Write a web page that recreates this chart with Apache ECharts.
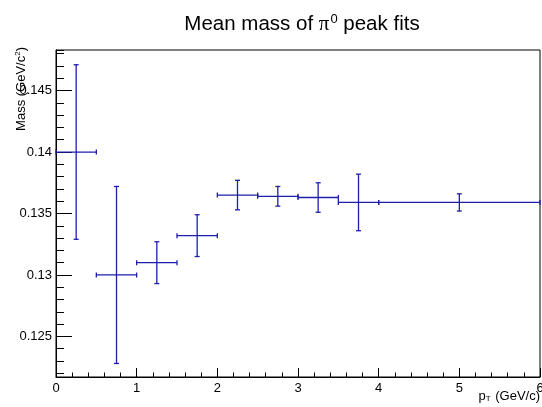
<!DOCTYPE html>
<html>
<head>
<meta charset="utf-8">
<script src="https://cdn.jsdelivr.net/npm/echarts@6/dist/echarts.min.js"></script>
<style>
  html, body { margin: 0; padding: 0; background: #fff; }
  #chart { width: 542px; height: 407px; }
</style>
</head>
<body>
<div id="chart"></div>
<script>
// bins in pT (GeV/c)
const binLow  = [0, 0.5, 1, 1.5, 2, 2.5, 3, 3.5, 4];
const binHigh = [0.5, 1, 1.5, 2, 2.5, 3, 3.5, 4, 6];
const binMid  = [0.25, 0.75, 1.25, 1.75, 2.25, 2.75, 3.25, 3.75, 5];
// mean mass and its error (GeV/c^2)
const meanMass = [0.1400, 0.1300, 0.1310, 0.1332, 0.1365, 0.1364, 0.1363, 0.1359, 0.1359];
const massErr  = [0.0071, 0.0072, 0.0017, 0.0017, 0.0012, 0.0008, 0.0012, 0.0023, 0.0007];

const yMin = 0.1217, yMax = 0.1483;
const blue = '#1e1eaa';
const font = 'Liberation Sans, Arial, Helvetica, sans-serif';

let pts = [];
for (let i = 0; i < binMid.length; i++) {
    pts.push([binMid[i], meanMass[i], binLow[i], binHigh[i], meanMass[i] - massErr[i], meanMass[i] + massErr[i]]);
}

//画误差棒
function renderErr(params, api) {
    let c = api.coord([api.value(0), api.value(1)]);
    let l = api.coord([api.value(2), api.value(1)]);
    let r = api.coord([api.value(3), api.value(1)]);
    let lo = api.coord([api.value(0), api.value(4)]);
    let hi = api.coord([api.value(0), api.value(5)]);
    let st = { stroke: blue, lineWidth: 1.3 };
    let cap = 2.5;
    return {
        type: 'group',
        children: [
            { type: 'line', shape: { x1: l[0], y1: c[1], x2: r[0], y2: c[1] }, style: st },
            { type: 'line', shape: { x1: l[0], y1: c[1] - cap, x2: l[0], y2: c[1] + cap }, style: st },
            { type: 'line', shape: { x1: r[0], y1: c[1] - cap, x2: r[0], y2: c[1] + cap }, style: st },
            { type: 'line', shape: { x1: c[0], y1: lo[1], x2: c[0], y2: hi[1] }, style: st },
            { type: 'line', shape: { x1: c[0] - cap, y1: lo[1], x2: c[0] + cap, y2: lo[1] }, style: st },
            { type: 'line', shape: { x1: c[0] - cap, y1: hi[1], x2: c[0] + cap, y2: hi[1] }, style: st }
        ]
    };
}

let myChart = echarts.init(document.getElementById('chart'));
let option = {
    animation: false,
    backgroundColor: '#fff',
    title: {
        text: 'Mean mass of {pi|π}{sup|0} peak fits',
        left: 297,
        textAlign: 'center',
        top: 8,
        textStyle: {
            fontFamily: font, fontSize: 20.5, fontWeight: 'normal', color: '#000',
            rich: {
                pi: { fontFamily: 'Liberation Serif, serif', fontSize: 21, color: '#000' },
                sup: { fontFamily: font, fontSize: 13, verticalAlign: 'top', padding: [0, 0, 10, 1], color: '#000' }
            }
        }
    },
    grid: {
        left: 56, right: 2, top: 50, bottom: 30,
        outerBoundsMode: 'none',
        containLabel: false,
        show: true, borderColor: '#000', borderWidth: 1, backgroundColor: 'transparent'
    },
    xAxis: {
        type: 'value', min: 0, max: 6, interval: 1,
        axisLine: { onZero: false, lineStyle: { color: '#000', width: 1 } },
        axisTick: { inside: true, length: 9, lineStyle: { color: '#000' } },
        minorTick: { show: true, splitNumber: 5, length: 4.5, lineStyle: { color: '#000' } },
        splitLine: { show: false },
        axisLabel: { margin: 5, fontFamily: font, fontSize: 13, color: '#000' }
    },
    yAxis: [
        {
            type: 'value', min: yMin, max: yMax, splitNumber: 5,
            axisLine: { onZero: false, lineStyle: { color: '#000', width: 1 } },
            axisTick: { inside: true, length: 16, lineStyle: { color: '#000' } },
            splitLine: { show: false },
            axisLabel: { margin: 4, fontFamily: font, fontSize: 13, color: '#000', showMinLabel: false, showMaxLabel: false }
        },
        {
            // 次刻度，0.001 一格
            type: 'value', min: yMin, max: yMax, splitNumber: 27, position: 'left',
            axisLine: { show: false },
            axisTick: { inside: true, length: 8, lineStyle: { color: '#000' } },
            splitLine: { show: false },
            axisLabel: { show: false }
        }
    ],
    graphic: [
        {
            type: 'text', x: 540, y: 396,
            style: {
                text: 'p{sub|T} (GeV/c)', align: 'right', verticalAlign: 'middle',
                fontFamily: font, fontSize: 13, fill: '#000',
                rich: { sub: { fontFamily: font, fontSize: 8, verticalAlign: 'bottom', padding: [6, 1, 0, 0] } }
            }
        },
        {
            type: 'text', x: 21, y: 47, rotation: Math.PI / 2,
            style: {
                text: 'Mass (GeV/c{sup|2})', align: 'right', verticalAlign: 'middle',
                fontFamily: font, fontSize: 13, fill: '#000',
                rich: { sup: { fontFamily: font, fontSize: 8, verticalAlign: 'top', padding: [0, 0, 7, 0] } }
            }
        }
    ],
    series: [
        {
            type: 'custom',
            renderItem: renderErr,
            encode: { x: 0, y: 1 },
            data: pts,
            clip: false
        }
    ]
};
myChart.setOption(option);
</script>
</body>
</html>
